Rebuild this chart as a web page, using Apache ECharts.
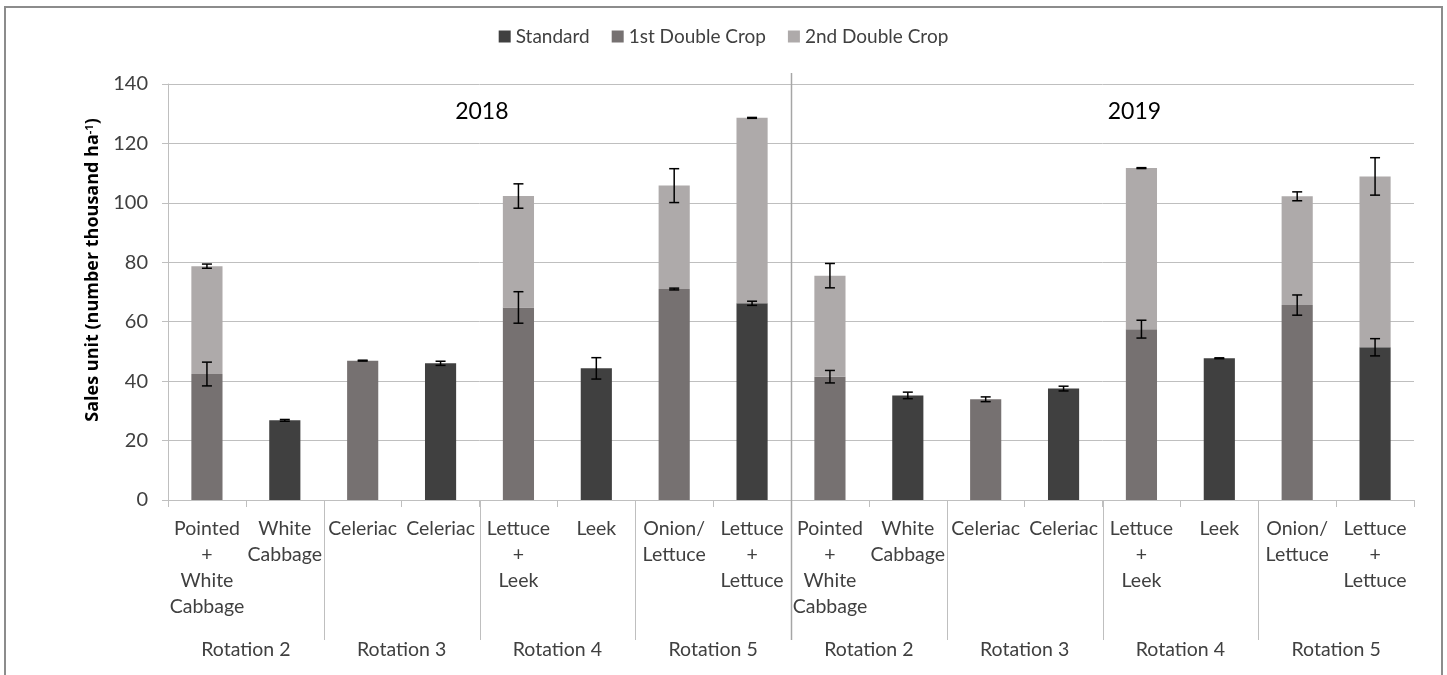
<!DOCTYPE html>
<html>
<head>
    <meta http-equiv="content-type" content="text/html;charset=utf-8">
    <script src="https://cdn.jsdelivr.net/npm/echarts@6/dist/echarts.min.js"></script>
    <style>
        html, body {margin: 0; padding: 0; background: #fff;}
        #chart {width: 1447px; height: 675px;}
    </style>
</head>
<body>
<div id="chart"></div>
<script type="text/javascript">
    // categories (two years, four rotations each)
    var categories = [
        'Pointed\n+\nWhite\nCabbage', 'White\nCabbage', 'Celeriac', 'Celeriac',
        'Lettuce\n+\nLeek', 'Leek', 'Onion/\nLettuce', 'Lettuce\n+\nLettuce',
        'Pointed\n+\nWhite\nCabbage', 'White\nCabbage', 'Celeriac', 'Celeriac',
        'Lettuce\n+\nLeek', 'Leek', 'Onion/\nLettuce', 'Lettuce\n+\nLettuce'
    ];
    var rotations = ['Rotation 2', 'Rotation 3', 'Rotation 4', 'Rotation 5',
                     'Rotation 2', 'Rotation 3', 'Rotation 4', 'Rotation 5'];
    var years = ['2018', '2019'];
    var yTicks = [0, 20, 40, 60, 80, 100, 120, 140];

    // segment values (thousand ha-1)
    var standard     = [null, 26.8, null, 46.0, null, 44.3, null, 66.2, null, 35.2, null, 37.5, null, 47.7, null, 51.4];
    var firstDouble  = [42.4, null, 46.9, null, 64.8, null, 71.0, null, 41.5, null, 33.9, null, 57.5, null, 65.6, null];
    var secondDouble = [36.3, null, null, null, 37.5, null, 34.8, 62.4, 34.0, null, null, null, 54.2, null, 36.6, 57.5];

    // error bar half widths
    var standardErr     = [null, 0.3, null, 0.7, null, 3.6, null, 0.7, null, 1.1, null, 0.8, null, 0.15, null, 2.9];
    var firstDoubleErr  = [4.0, null, 0.15, null, 5.3, null, 0.3, null, 2.1, null, 0.8, null, 3.0, null, 3.4, null];
    var secondDoubleErr = [0.7, null, null, null, 4.1, null, 5.7, 0.15, 4.1, null, null, null, 0.15, null, 1.5, 6.3];

    var chart = echarts.init(document.getElementById('chart'));
    var font = 'Lato, "Open Sans", sans-serif';
    var txt = '#404040';
    var lineCol = '#BFBFBF';

    // tops of each segment for the error bars
    var errData = [];
    for (var i = 0; i < categories.length; i++) {
        var base = 0;
        var segs = [[standard, standardErr], [firstDouble, firstDoubleErr], [secondDouble, secondDoubleErr]];
        for (var s = 0; s < segs.length; s++) {
            var v = segs[s][0][i];
            if (v != null) {
                base += v;
                if (segs[s][1][i] != null) errData.push([i, base, segs[s][1][i]]);
            }
        }
    }

    function barSeries(name, data, color) {
        return {
            name: name,
            type: 'bar',
            stack: 'total',
            data: data,
            barWidth: '40%',
            itemStyle: {color: color},
            emphasis: {disabled: true}
        };
    }

    var option = {
        animation: false,
        backgroundColor: '#fff',
        textStyle: {fontFamily: font},
        legend: {
            top: 22,
            left: 'center',
            itemWidth: 12,
            itemHeight: 12,
            itemGap: 22,
            icon: 'rect',
            textStyle: {fontSize: 19, color: txt, fontFamily: font},
            data: ['Standard', '1st Double Crop', '2nd Double Crop']
        },
        grid: {left: 168, right: 33, top: 84, bottom: 175},
        xAxis: [
            {
                type: 'category',
                data: categories,
                axisLine: {lineStyle: {color: lineCol, width: 1}},
                axisTick: {show: true, length: 7, interval: 0, lineStyle: {color: lineCol}},
                axisLabel: {
                    interval: 0, margin: 16, fontSize: 19.5, color: txt, fontFamily: font,
                    lineHeight: 26, verticalAlign: 'top'
                }
            },
            {
                type: 'category',
                position: 'bottom',
                data: rotations,
                axisLine: {show: false},
                axisTick: {show: false},
                axisLabel: {interval: 0, margin: 140, fontSize: 19.5, color: txt, fontFamily: font}
            }
        ],
        yAxis: {
            type: 'value',
            min: yTicks[0],
            max: yTicks[yTicks.length - 1],
            interval: 20,
            name: 'Sales unit (number thousand ha{sup|-1})',
            nameLocation: 'middle',
            nameGap: 64,
            nameTextStyle: {
                fontSize: 18, fontWeight: 'bold', color: '#000', fontFamily: '"Open Sans", sans-serif',
                padding: [0, 0, 0, 44],
                rich: {sup: {fontSize: 11, fontWeight: 'bold', color: '#000', verticalAlign: 'top', fontFamily: '"Open Sans", sans-serif'}}
            },
            axisLine: {show: true, lineStyle: {color: lineCol}},
            axisTick: {show: true, length: 6, lineStyle: {color: lineCol}},
            axisLabel: {fontSize: 20, color: txt, margin: 20, fontFamily: font},
            splitLine: {lineStyle: {color: lineCol, width: 1}}
        },
        series: [
            barSeries('Standard', standard, '#404040'),
            barSeries('1st Double Crop', firstDouble, '#767171'),
            barSeries('2nd Double Crop', secondDouble, '#AEAAAA'),
            {
                name: 'error',
                type: 'custom',
                data: errData,
                z: 10,
                renderItem: function (params, api) {
                    var x = api.value(0);
                    var top = api.coord([x, api.value(1) + api.value(2)]);
                    var bot = api.coord([x, api.value(1) - api.value(2)]);
                    var hw = 5;
                    var st = {stroke: '#000', lineWidth: 1.5};
                    return {
                        type: 'group',
                        children: [
                            {type: 'line', shape: {x1: top[0], y1: top[1], x2: bot[0], y2: bot[1]}, style: st},
                            {type: 'line', shape: {x1: top[0] - hw, y1: top[1], x2: top[0] + hw, y2: top[1]}, style: st},
                            {type: 'line', shape: {x1: bot[0] - hw, y1: bot[1], x2: bot[0] + hw, y2: bot[1]}, style: st}
                        ]
                    };
                }
            }
        ]
    };
    chart.setOption(option);

    // separators between rotations and years, year labels, outer frame
    var c0 = chart.convertToPixel({xAxisIndex: 0}, 0);
    var c1 = chart.convertToPixel({xAxisIndex: 0}, 1);
    var band = c1 - c0;
    var left0 = c0 - band / 2;
    var yBase = chart.convertToPixel({yAxisIndex: 0}, 0);
    var yTop = chart.convertToPixel({yAxisIndex: 0}, 140);
    var g = [];
    g.push({type: 'rect', shape: {x: 5, y: 7, width: 1437, height: 700},
            style: {fill: null, stroke: '#8C8C8C', lineWidth: 2}, silent: true});
    for (var r = 1; r < rotations.length; r++) {
        var xr = Math.round(left0 + band * 2 * r) + 0.5;
        var y1 = (r === 4) ? yTop - 11 : yBase;
        g.push({type: 'line', shape: {x1: xr, y1: y1, x2: xr, y2: yBase + 140},
                style: {stroke: (r === 4) ? '#A6A6A6' : lineCol, lineWidth: (r === 4) ? 1.5 : 1}, z: 20});
    }
    var yearX = [left0 + band * 4.03, left0 + band * 12.41];
    for (var k = 0; k < years.length; k++) {
        g.push({type: 'text', x: yearX[k], y: yTop + 28,
                style: {text: years[k], fontSize: 23, fill: '#000', fontFamily: font, align: 'center', verticalAlign: 'middle'}, z: 20});
    }
    chart.setOption({graphic: g});
</script>
</body>
</html>
